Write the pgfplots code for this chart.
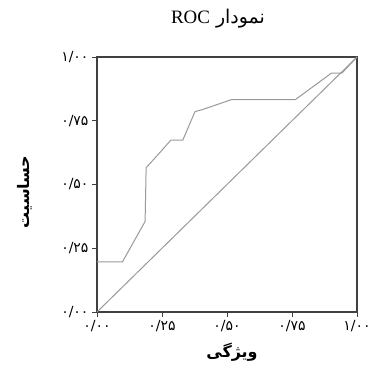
\documentclass[border=0pt]{standalone}
\usepackage{pgfplots}
\pgfplotsset{compat=1.18}
\usepackage{fontspec}
\setmainfont{Liberation Serif}
\newfontfamily\arabicfont[Script=Arabic]{DejaVu Sans}
\TeXXeTstate=1
\begin{document}
\begin{tikzpicture}
\begin{axis}[
 scale only axis, width=260bp, height=255bp,
 xmin=0,xmax=1,ymin=0,ymax=1,
 axis line style={black!75, line width=1.2bp},
 tick align=outside, tick pos=left, major tick length=5bp,
 tick style={black!75,line width=0.8bp},
 xtick={0,0.25,0.5,0.75,1}, ytick={0,0.25,0.5,0.75,1},
 xticklabels={۰/۰۰,۰/۲۵,۰/۵۰,۰/۷۵,۱/۰۰},
 yticklabels={۰/۰۰,۰/۲۵,۰/۵۰,۰/۷۵,۱/۰۰},
 ticklabel style={font=\arabicfont\fontsize{14}{14}\selectfont},
 clip=false,
]
\addplot[gray!80, line width=1bp] coordinates {
 (0,0.197) (0.098,0.197) (0.185,0.355) (0.189,0.566) (0.224,0.605)
 (0.284,0.674) (0.330,0.674) (0.377,0.786) (0.403,0.793) (0.518,0.833)
 (0.763,0.833) (0.902,0.937) (0.942,0.937) (1,1)};
\addplot[gray!80, line width=1bp] coordinates {(0,0) (1,1)};
\coordinate (bl) at (rel axis cs:0,0);
\coordinate (tr) at (rel axis cs:1,1);
\end{axis}
\node at ([shift={(121bp,293bp)}]bl) {\fontsize{19}{19}\selectfont\arabicfont\beginR نمودار \beginL{\rmfamily ROC}\endL\endR};
\node[rotate=90] at ([shift={(-72bp,120bp)}]bl) {\arabicfont\bfseries\fontsize{16}{16}\selectfont\beginR حساسیت\endR};
\node at ([shift={(135bp,-40bp)}]bl) {\arabicfont\bfseries\fontsize{16}{16}\selectfont\beginR ویژگی\endR};
\pgfresetboundingbox
\path ([shift={(-97bp,-55bp)}]bl) rectangle ([shift={(16bp,57bp)}]tr);
\end{tikzpicture}
\end{document}
